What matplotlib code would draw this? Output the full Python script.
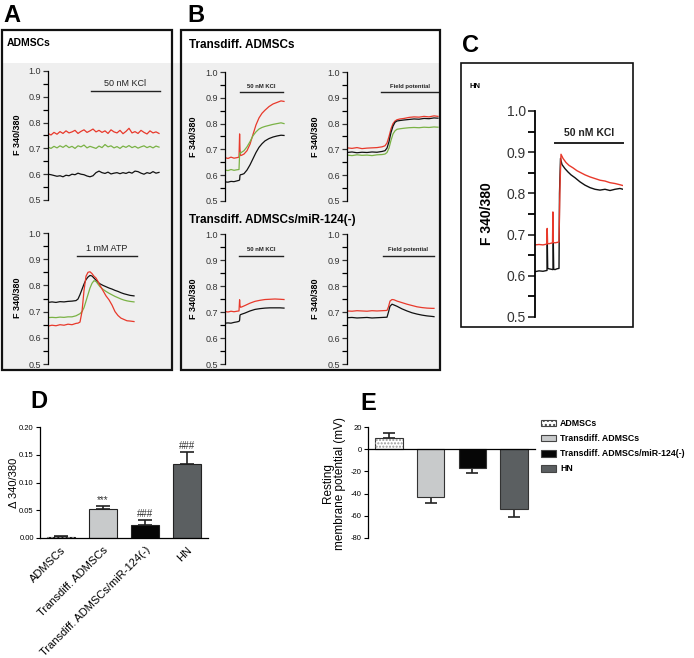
import matplotlib.pyplot as plt
from matplotlib.patches import Rectangle, Patch
import numpy as np

plt.rcParams['font.family'] = ['Liberation Sans', 'DejaVu Sans']
plt.rcParams['axes.unicode_minus'] = False

# ---- calcium traces (F 340/380) ----
# A, top: ADMSCs, 50 nM KCl (sampled every 3 s)
a1_red = [0.758, 0.752, 0.762, 0.755, 0.765, 0.758, 0.768, 0.760, 0.764, 0.770,
          0.758, 0.766, 0.772, 0.762, 0.768, 0.775, 0.764, 0.770, 0.762, 0.768,
          0.758, 0.772, 0.764, 0.760, 0.770, 0.757, 0.766, 0.778, 0.760, 0.765,
          0.758, 0.770, 0.762, 0.756, 0.768, 0.760, 0.764, 0.758]
a1_green = [0.705, 0.700, 0.708, 0.702, 0.710, 0.704, 0.712, 0.703, 0.708, 0.700,
            0.710, 0.706, 0.713, 0.702, 0.708, 0.704, 0.700, 0.709, 0.703, 0.715,
            0.706, 0.710, 0.702, 0.707, 0.700, 0.709, 0.704, 0.711, 0.703, 0.708,
            0.701, 0.706, 0.710, 0.703, 0.708, 0.702, 0.709, 0.705]
a1_black = [0.600, 0.598, 0.595, 0.592, 0.594, 0.590, 0.596, 0.594, 0.600, 0.598,
            0.604, 0.600, 0.598, 0.593, 0.590, 0.594, 0.606, 0.612, 0.606, 0.603,
            0.608, 0.601, 0.604, 0.606, 0.602, 0.606, 0.603, 0.608, 0.604, 0.612,
            0.610, 0.604, 0.600, 0.606, 0.603, 0.610, 0.604, 0.607]

# A, bottom: ADMSCs, 1 mM ATP
a2_t = [0, 4, 8, 12, 16, 20, 24, 28, 30, 32, 34, 36, 38, 40, 42, 44, 46, 48, 50, 52,
        55, 58, 61, 64, 67, 70, 73, 76, 79, 82, 86]
a2_red = [0.645, 0.648, 0.646, 0.650, 0.648, 0.652, 0.650, 0.655, 0.656, 0.660,
          0.700, 0.780, 0.835, 0.850, 0.852, 0.845, 0.835, 0.828, 0.815, 0.800,
          0.780, 0.760, 0.745, 0.725, 0.700, 0.685, 0.675, 0.670, 0.665, 0.664, 0.662]
a2_green = [0.677, 0.678, 0.677, 0.679, 0.678, 0.680, 0.680, 0.684, 0.688, 0.692,
            0.700, 0.715, 0.740, 0.765, 0.790, 0.808, 0.818, 0.815, 0.805, 0.795,
            0.785, 0.777, 0.770, 0.764, 0.758, 0.753, 0.748, 0.744, 0.741, 0.739, 0.737]
a2_black = [0.735, 0.737, 0.735, 0.738, 0.737, 0.739, 0.740, 0.742, 0.748, 0.765,
            0.785, 0.805, 0.822, 0.832, 0.838, 0.836, 0.828, 0.820, 0.812, 0.806,
            0.800, 0.795, 0.790, 0.786, 0.781, 0.777, 0.772, 0.768, 0.765, 0.762, 0.760]

# B, top left: Transdiff. ADMSCs, KCl
b1_t = [0, 3, 6, 9, 12, 14, 14.6, 15, 15.6, 17, 19, 22, 25, 28, 31, 34, 37, 40, 44, 48,
        52, 56, 59]
b1_red = [0.668, 0.665, 0.670, 0.666, 0.668, 0.670, 0.760, 0.700, 0.676, 0.678,
          0.682, 0.695, 0.720, 0.758, 0.795, 0.822, 0.840, 0.852, 0.866, 0.876,
          0.882, 0.888, 0.886]
b1_green = [0.620, 0.618, 0.622, 0.619, 0.621, 0.622, 0.680, 0.688, 0.686, 0.690,
            0.695, 0.710, 0.730, 0.753, 0.768, 0.779, 0.785, 0.789, 0.793, 0.797,
            0.800, 0.803, 0.800]
b1_black = [0.574, 0.573, 0.576, 0.575, 0.578, 0.580, 0.582, 0.600, 0.602, 0.603,
            0.606, 0.620, 0.640, 0.664, 0.688, 0.708, 0.722, 0.733, 0.742, 0.748,
            0.752, 0.755, 0.754]

# B, top right: Transdiff. ADMSCs, field potential
b2_t = [0, 5, 10, 15, 20, 25, 30, 35, 38, 40, 42, 44, 46, 48, 50, 53, 57, 62, 67, 72,
        77, 82, 87, 91]
b2_red = [0.706, 0.704, 0.707, 0.703, 0.705, 0.706, 0.707, 0.710, 0.714, 0.725,
          0.750, 0.780, 0.800, 0.810, 0.815, 0.818, 0.820, 0.824, 0.826, 0.825,
          0.828, 0.826, 0.830, 0.828]
b2_green = [0.678, 0.676, 0.679, 0.677, 0.678, 0.676, 0.679, 0.680, 0.682, 0.688,
            0.705, 0.735, 0.760, 0.772, 0.778, 0.780, 0.782, 0.784, 0.785, 0.784,
            0.786, 0.785, 0.787, 0.786]
b2_black = [0.688, 0.690, 0.687, 0.689, 0.688, 0.690, 0.689, 0.692, 0.695, 0.705,
            0.730, 0.765, 0.790, 0.805, 0.810, 0.812, 0.814, 0.816, 0.818, 0.817,
            0.820, 0.819, 0.822, 0.821]

# B, bottom left: miR-124(-), KCl
b3_t = [0, 3, 6, 9, 12, 14, 14.6, 15, 15.6, 17, 20, 25, 30, 35, 40, 45, 50, 55, 59]
b3_red = [0.702, 0.700, 0.703, 0.701, 0.703, 0.704, 0.747, 0.725, 0.718, 0.720,
          0.725, 0.734, 0.741, 0.745, 0.748, 0.749, 0.750, 0.749, 0.748]
b3_black = [0.657, 0.658, 0.657, 0.660, 0.662, 0.664, 0.668, 0.688, 0.690, 0.692,
            0.696, 0.704, 0.710, 0.713, 0.715, 0.716, 0.716, 0.716, 0.715]

# B, bottom right: miR-124(-), field potential
b4_t = [0, 5, 10, 15, 20, 25, 30, 35, 40, 41.5, 43, 45, 47, 50, 55, 60, 65, 70, 75, 80,
        85, 87]
b4_red = [0.704, 0.703, 0.705, 0.704, 0.703, 0.705, 0.704, 0.705, 0.706, 0.720,
          0.742, 0.748, 0.747, 0.742, 0.736, 0.730, 0.725, 0.720, 0.717, 0.715, 0.714, 0.714]
b4_black = [0.678, 0.679, 0.677, 0.678, 0.679, 0.677, 0.678, 0.679, 0.680, 0.700,
            0.722, 0.730, 0.727, 0.722, 0.712, 0.704, 0.697, 0.692, 0.688, 0.685, 0.683, 0.682]

# C: HN, KCl
c_red_t = [0, 4, 8, 11.8, 12.2, 12.6, 14, 16, 17.5, 17.9, 18.3, 20, 22, 24, 25, 26, 28, 31,
           34, 38, 42, 46, 50, 55, 60, 65, 70, 75, 80, 85, 88]
c_red = [0.675, 0.676, 0.675, 0.677, 0.715, 0.678, 0.678, 0.679, 0.680, 0.755, 0.681,
         0.680, 0.681, 0.682, 0.820, 0.895, 0.885, 0.875, 0.868, 0.862, 0.855, 0.850,
         0.845, 0.840, 0.836, 0.832, 0.830, 0.826, 0.824, 0.821, 0.819]
c_black_t = [0, 4, 8, 12, 12.3, 12.7, 14, 16, 18, 18.3, 18.7, 20, 22, 24, 24.5, 25.5, 27,
             30, 33, 36, 40, 45, 50, 55, 60, 65, 70, 75, 80, 85, 88]
c_black = [0.610, 0.612, 0.611, 0.613, 0.680, 0.618, 0.617, 0.616, 0.615, 0.680, 0.616,
           0.615, 0.617, 0.618, 0.800, 0.885, 0.870, 0.860, 0.852, 0.845, 0.838, 0.828,
           0.820, 0.814, 0.810, 0.808, 0.810, 0.807, 0.810, 0.812, 0.810]

# ---- bar charts ----
groups = ['ADMSCs', 'Transdiff. ADMSCs', 'Transdiff. ADMSCs/miR-124(-)', 'HN']
delta = [0.002, 0.052, 0.023, 0.133]
delta_err = [0.001, 0.006, 0.009, 0.022]
delta_sig = ['', '***', '###', '###']
rmp = [10.3, -43.3, -17.0, -54.0]
rmp_err = [4.5, 5.2, 4.3, 7.2]
bar_colors = ['white', '#c8cacb', '#060606', '#5b5f61']

RED = '#e8392b'
GREEN = '#7ab245'
BLACK = '#111111'

W, H = 694, 658
fig = plt.figure(figsize=(W / 100, H / 100), dpi=100)


def px_axes(x0, y0, x1, y1):
    return fig.add_axes([x0 / W, 1 - y1 / H, (x1 - x0) / W, (y1 - y0) / H])


def px_text(x, y, s, **kw):
    fig.text(x / W, 1 - y / H, s, **kw)


def px_rect(x0, y0, x1, y1, **kw):
    r = Rectangle((x0 / W, 1 - y1 / H), (x1 - x0) / W, (y1 - y0) / H,
                  transform=fig.transFigure, **kw)
    fig.add_artist(r)


def trace_axes(rect, tmax, fs=6.5, big=False):
    ax = px_axes(*rect)
    ax.set_facecolor('none')
    ax.set_xlim(0, tmax)
    ax.set_ylim(0.5, 1.0)
    for s in ['top', 'right', 'bottom']:
        ax.spines[s].set_visible(False)
    ax.spines['left'].set_linewidth(1.3 if big else 0.9)
    ax.set_xticks([])
    ax.set_yticks(np.arange(0.5, 1.01, 0.1))
    ax.set_yticks(np.arange(0.55, 1.0, 0.1), minor=True)
    ax.set_yticklabels(['%.1f' % v for v in np.arange(0.5, 1.01, 0.1)])
    ax.tick_params(axis='y', which='major', length=5 if big else 3.5,
                   width=1.3 if big else 0.9, labelsize=fs, colors='#333', pad=1.5)
    ax.tick_params(axis='y', which='minor', length=5 if big else 3.5,
                   width=1.3 if big else 0.9)
    return ax


def stim(ax, t0, t1, level, label, fs, bold=False, lw=1.0):
    ax.plot([t0, t1], [level, level], color='#222', lw=lw, clip_on=False)
    ax.text((t0 + t1) / 2, level + 0.012, label, ha='center', va='bottom',
            fontsize=fs, fontweight='bold' if bold else 'normal', color='#222')


# gray backgrounds and frames of A and B
px_rect(2, 63, 440, 370, facecolor='#efefef', edgecolor='none', zorder=-1)
px_rect(2, 30, 172, 370, fill=False, lw=1.6, edgecolor='#111')
px_rect(181, 30, 440, 370, fill=False, lw=1.6, edgecolor='#111')
px_rect(461, 63, 633, 327, fill=False, lw=1.2, edgecolor='#111')

for lab, x, y in [('A', 3, 16), ('B', 187, 16), ('C', 462, 46), ('D', 30, 402), ('E', 360, 404)]:
    px_text(x, y, lab, fontsize=17, fontweight='bold', ha='left', va='center')

px_text(7, 43, 'ADMSCs', fontsize=7.5, fontweight='bold', va='center')
px_text(189, 45, 'Transdiff. ADMSCs', fontsize=8.5, fontweight='bold', va='center')
px_text(189, 220, 'Transdiff. ADMSCs/miR-124(-)', fontsize=8.5, fontweight='bold', va='center')
px_text(470, 86, 'HN', fontsize=5.5, fontweight='bold', va='center')

# A top
ax = trace_axes((48, 71, 160, 200), 112)
ta = np.arange(len(a1_red)) * 3
ax.plot(ta, a1_red, color=RED, lw=0.9)
ax.plot(ta, a1_green, color=GREEN, lw=0.9)
ax.plot(ta, a1_black, color=BLACK, lw=0.9)
stim(ax, 43, 112, 0.922, '50 nM KCl', 6.5)
px_text(18, 135, 'F 340/380', fontsize=6.5, fontweight='bold', rotation=90, ha='center', va='center')

# A bottom
ax = trace_axes((48, 233, 160, 364), 112)
ax.plot(a2_t, a2_black, color=BLACK, lw=0.9)
ax.plot(a2_t, a2_green, color=GREEN, lw=0.9)
ax.plot(a2_t, a2_red, color=RED, lw=0.9)
stim(ax, 29, 89, 0.912, '1 mM ATP', 6.5)
px_text(18, 298, 'F 340/380', fontsize=6.5, fontweight='bold', rotation=90, ha='center', va='center')

# B panels
for rect, tmax, t, series, st, ylx in [
        ((225, 72, 285, 201), 60, b1_t, [(b1_red, RED), (b1_green, GREEN), (b1_black, BLACK)],
         (15, 58, 0.922, '50 nM KCl'), 193),
        ((347, 72, 439, 201), 92, b2_t, [(b2_red, RED), (b2_green, GREEN), (b2_black, BLACK)],
         (34, 91, 0.922, 'Field potential'), 316),
        ((225, 234, 285, 364), 60, b3_t, [(b3_red, RED), (b3_black, BLACK)],
         (14, 58, 0.917, '50 nM KCl'), 193),
        ((347, 234, 439, 364), 92, b4_t, [(b4_red, RED), (b4_black, BLACK)],
         (36, 87, 0.917, 'Field potential'), 316)]:
    ax = trace_axes(rect, tmax)
    for vals, col in series:
        ax.plot(t, vals, color=col, lw=0.9)
    stim(ax, *st, fs=4.2, bold=True)
    px_text(ylx, (rect[1] + rect[3]) / 2, 'F 340/380', fontsize=6.5, fontweight='bold',
            rotation=90, ha='center', va='center')

# C
ax = trace_axes((535, 111, 623, 317), 88, fs=10, big=True)
ax.plot(c_black_t, c_black, color=BLACK, lw=1.0)
ax.plot(c_red_t, c_red, color=RED, lw=1.0)
stim(ax, 20, 88, 0.922, '50 nM KCl', 7.5, bold=True, lw=1.4)
px_text(487, 214, 'F 340/380', fontsize=10, fontweight='bold', rotation=90, ha='center', va='center')

# D: delta 340/380
x = np.arange(len(groups))
ax = px_axes(40, 427, 208, 538)
ax.set_facecolor('none')
ax.bar(x, delta, width=0.66, color=bar_colors, edgecolor='#222', lw=0.8, zorder=2)
ax.bar(x[:1], delta[:1], width=0.66, color='none', edgecolor='#888', hatch='....', lw=0, zorder=3)
ax.errorbar(x, delta, yerr=[[0] * 4, delta_err], fmt='none', ecolor='#222',
            elinewidth=1.2, capsize=5, capthick=1.2, zorder=1)
for xi, v, e, s in zip(x, delta, delta_err, delta_sig):
    ax.text(xi, v + e + 0.002, s, ha='center', va='bottom', fontsize=7, color='#333')
ax.set_xlim(-0.5, 3.5)
ax.set_ylim(0, 0.2)
ax.set_yticks([0, 0.05, 0.10, 0.15, 0.20])
ax.set_yticklabels(['0.00', '0.05', '0.10', '0.15', '0.20'])
ax.tick_params(axis='y', labelsize=5.5, length=3, width=0.8, pad=1.5)
ax.set_xticks(x)
ax.set_xticklabels(groups, rotation=45, ha='right', rotation_mode='anchor', fontsize=8)
ax.tick_params(axis='x', length=0, pad=5)
for s in ['top', 'right']:
    ax.spines[s].set_visible(False)
ax.spines['left'].set_linewidth(0.9)
ax.spines['bottom'].set_linewidth(0.9)
px_text(14, 483, 'Δ 340/380', fontsize=8, rotation=90, ha='center', va='center')

# E: resting membrane potential
ax = px_axes(368, 427, 535, 538)
ax.set_facecolor('none')
ax.bar(x, rmp, width=0.66, color=bar_colors, edgecolor='#333', lw=0.8, zorder=2)
ax.bar(x[:1], rmp[:1], width=0.66, color='none', edgecolor='#999', hatch='.....', lw=0, zorder=3)
lo = [0 if v > 0 else e for v, e in zip(rmp, rmp_err)]
hi = [e if v > 0 else 0 for v, e in zip(rmp, rmp_err)]
ax.errorbar(x, rmp, yerr=[lo, hi], fmt='none', ecolor='#222', elinewidth=1.2,
            capsize=4.5, capthick=1.2, zorder=1)
ax.set_xlim(-0.5, 3.5)
ax.set_ylim(-80, 20)
ax.set_yticks([20, 0, -20, -40, -60, -80])
ax.tick_params(axis='y', labelsize=5.5, length=3, width=0.8, pad=1.5)
ax.set_xticks([])
ax.spines['bottom'].set_position(('data', 0))
for s in ['top', 'right']:
    ax.spines[s].set_visible(False)
ax.spines['left'].set_linewidth(0.9)
ax.spines['bottom'].set_linewidth(0.9)
px_text(334, 483, 'Resting\nmembrane potential (mV)', fontsize=8.5, rotation=90,
        ha='center', va='center', multialignment='center', linespacing=1.1)

handles = [Patch(facecolor=c, edgecolor='#444', lw=0.8, hatch='....' if i == 0 else None)
           for i, c in enumerate(bar_colors)]
fig.legend(handles, groups, loc='upper left', bbox_to_anchor=(541 / W, 1 - 419 / H),
           frameon=False, prop={'size': 6.3, 'weight': 'bold'}, handlelength=1.7,
           handleheight=0.8, labelspacing=0.7, handletextpad=0.5, borderpad=0,
           borderaxespad=0)

fig.savefig('out.png', dpi=100)
